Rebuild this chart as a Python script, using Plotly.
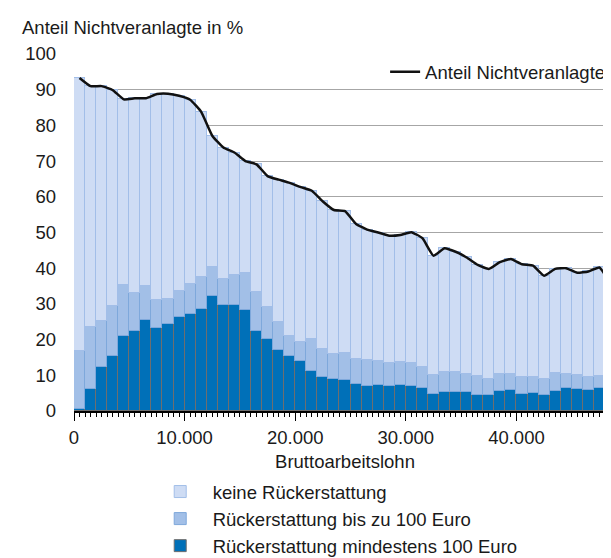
import plotly.graph_objects as go

# Lohnklassen (untere Grenze, Euro), Klassenbreite 1000
klassen_start = list(range(0, 49000, 1000))

# Anteil Nichtveranlagte insgesamt (%)
anteil_gesamt = [93.3, 91.0, 91.0, 89.9, 87.3, 87.6, 87.6, 88.8, 88.9, 88.3,
                 87.2, 83.8, 77.1, 73.8, 72.4, 70.0, 69.1, 65.8, 64.8, 63.9,
                 62.7, 61.7, 58.7, 56.3, 56.0, 52.4, 50.8, 50.0, 49.1, 49.3,
                 50.1, 48.4, 43.5, 45.6, 44.6, 43.0, 40.9, 39.8, 41.7, 42.6,
                 41.1, 40.7, 37.9, 39.8, 40.0, 38.7, 39.1, 40.2, 35.7]

# Anteil mit Rückerstattung (bis zu 100 Euro + mindestens 100 Euro), kumuliert (%)
anteil_mit_erstattung = [16.7, 23.4, 25.3, 29.3, 35.2, 33.0, 34.9, 31.0, 31.4, 33.5,
                         35.6, 37.4, 40.4, 37.1, 38.0, 38.7, 33.4, 29.1, 25.0, 21.1,
                         19.4, 20.3, 17.4, 15.9, 16.3, 14.5, 14.4, 14.1, 13.5, 13.8,
                         13.5, 12.3, 10.2, 11.0, 10.8, 10.4, 9.7, 8.9, 10.3, 10.4,
                         9.5, 9.5, 9.0, 10.6, 10.4, 10.2, 9.5, 9.7, 10.4]

# Anteil mit Rückerstattung mindestens 100 Euro (%)
anteil_min_100 = [0.5, 6.2, 12.2, 15.3, 20.9, 22.3, 25.5, 23.3, 24.3, 26.2,
                  27.2, 28.6, 32.1, 29.7, 29.7, 28.2, 22.5, 20.1, 17.0, 15.4,
                  14.1, 11.3, 9.5, 9.0, 8.7, 7.6, 7.1, 7.2, 6.9, 7.3,
                  7.1, 6.4, 4.8, 5.3, 5.4, 5.2, 4.5, 4.6, 5.5, 6.0,
                  4.8, 5.0, 4.6, 5.7, 6.5, 6.2, 6.0, 6.4, 6.8]

x_mitte = [k + 500 for k in klassen_start]
anteil_bis_100 = [m - d for m, d in zip(anteil_mit_erstattung, anteil_min_100)]
anteil_keine = [g - m for g, m in zip(anteil_gesamt, anteil_mit_erstattung)]

FONT = "Liberation Sans, Arial, Helvetica, sans-serif"
FS = 18.5

fig = go.Figure()
fig.add_trace(go.Bar(
    x=x_mitte, y=anteil_min_100, width=1000,
    name="Rückerstattung mindestens 100 Euro",
    marker=dict(color="#0070b8", line=dict(color="#6e6e6e", width=1)),
))
fig.add_trace(go.Bar(
    x=x_mitte, y=anteil_bis_100, width=1000,
    name="Rückerstattung bis zu 100 Euro",
    marker=dict(color="#a2bfe7", line=dict(color="#7ea8db", width=1)),
))
fig.add_trace(go.Bar(
    x=x_mitte, y=anteil_keine, width=1000,
    name="keine Rückerstattung",
    marker=dict(color="#cedcf4", line=dict(color="#a2bee8", width=1)),
))
fig.add_trace(go.Scatter(
    x=x_mitte, y=anteil_gesamt, mode="lines",
    name="Anteil Nichtveranlagte", legend="legend2",
    line=dict(color="#111111", width=2.5, shape="spline", smoothing=0.4),
))

fig.update_layout(
    width=611, height=558,
    margin=dict(l=66, r=3, t=46, b=155, autoexpand=False),
    barmode="stack", bargap=0,
    plot_bgcolor="white", paper_bgcolor="white",
    separators=",.",
    font=dict(family=FONT, size=FS, color="#1a1a1a"),
    showlegend=True,
    legend=dict(
        x=0.136, xanchor="left", y=-0.4314, yanchor="bottom",
        traceorder="reversed", itemwidth=55,
        font=dict(size=FS), bgcolor="rgba(0,0,0,0)",
    ),
    legend2=dict(
        x=0.574, xanchor="left", y=0.949, yanchor="middle",
        font=dict(size=FS), bgcolor="rgba(0,0,0,0)",
    ),
    xaxis=dict(
        range=[0, 49000], tickvals=[0, 10000, 20000, 30000, 40000],
        tickformat=",d", showgrid=False, zeroline=False, automargin=False,
        showline=True, linecolor="#000000", linewidth=1.5,
        ticks="outside", ticklen=8, tickcolor="#000000", tickwidth=1,
        ticklabelstandoff=1,
        minor=dict(dtick=500, ticks="outside", ticklen=4, tickcolor="#000000", showgrid=False),
        title=dict(text="Bruttoarbeitslohn", standoff=8, font=dict(size=FS)),
    ),
    yaxis=dict(
        range=[0, 100], dtick=10, showgrid=True, gridcolor="#a6a6a6", gridwidth=1,
        zeroline=False, showline=False, automargin=False,
        ticks="", ticklabelstandoff=17,
    ),
    annotations=[dict(
        text="Anteil Nichtveranlagte in %", xref="paper", yref="paper",
        x=-0.1, y=1.074, xanchor="left", yanchor="middle",
        showarrow=False, font=dict(size=FS),
    )],
)

fig.write_html("out.html")
